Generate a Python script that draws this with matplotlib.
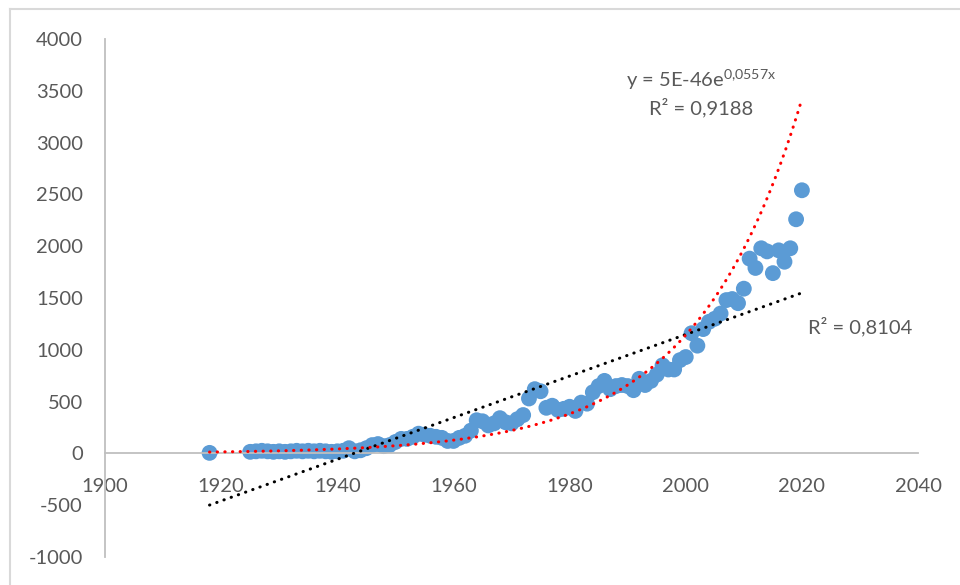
"""
Scatter of yearly values with linear and exponential trendlines (Excel-style look).
Writes out.png (960x585).
"""
from __future__ import annotations

import numpy as np
import matplotlib

matplotlib.use("Agg")
import matplotlib.pyplot as plt
from matplotlib.lines import Line2D

years = [1918] + list(range(1925, 2021))
values = [
    5,
    # 1925-1949
    15, 20, 25, 20, 15, 20, 15, 20, 25, 20,
    25, 20, 25, 20, 15, 20, 25, 50, 20, 30,
    50, 80, 90, 70, 80,
    # 1950-1974
    110, 140, 140, 160, 190, 180, 170, 160, 150, 120,
    120, 150, 170, 220, 320, 310, 270, 290, 340, 300,
    290, 330, 370, 530, 620,
    # 1975-1999
    600, 440, 460, 420, 430, 450, 410, 490, 480, 590,
    650, 700, 620, 650, 660, 650, 610, 720, 660, 700,
    760, 850, 810, 810, 900,
    # 2000-2020
    930, 1160, 1040, 1200, 1270, 1300, 1350, 1480, 1490, 1450,
    1590, 1880, 1790, 1980, 1950, 1740, 1960, 1850, 1980, 2260,
    2540,
]

x_ticks = [1900, 1920, 1940, 1960, 1980, 2000, 2020, 2040]
y_ticks = [-1000, -500, 0, 500, 1000, 1500, 2000, 2500, 3000, 3500, 4000]

exp_label = "y = 5E-46e$^{0{,}0557x}$"
exp_r2_label = "R² = 0,9188"
lin_r2_label = "R² = 0,8104"

BLUE = "#5B9BD5"
TEXT = "#595959"
AXIS = "#BFBFBF"


def main() -> None:
    plt.rcParams["font.family"] = ["Lato", "DejaVu Sans"]
    plt.rcParams["mathtext.fontset"] = "custom"
    plt.rcParams["mathtext.rm"] = "Lato"
    plt.rcParams["mathtext.it"] = "Lato"
    plt.rcParams["mathtext.default"] = "rm"
    plt.rcParams["axes.unicode_minus"] = False

    x = np.asarray(years, dtype=float)
    y = np.asarray(values, dtype=float)

    fig = plt.figure(figsize=(9.6, 5.85), dpi=100)
    ax = fig.add_axes([0.1094, 0.0479, 0.8469, 0.8854])

    ax.scatter(x, y, s=130, color=BLUE, edgecolors="none", zorder=2)

    # trendlines, fitted from the data (linear, and exponential on ln y)
    xs = np.linspace(x.min(), x.max(), 300)
    b_lin, a_lin = np.polyfit(x, y, 1)
    b_exp, a_exp = np.polyfit(x, np.log(y), 1)
    dots = dict(linewidth=2.2, dashes=(0.1, 2.4), dash_capstyle="round", zorder=3)
    ax.plot(xs, a_lin + b_lin * xs, color="black", **dots)
    ax.plot(xs, np.exp(a_exp + b_exp * xs), color="#FF0000", **dots)

    ax.set_xlim(1900, 2040)
    ax.set_ylim(-1000, 4000)
    ax.set_xticks(x_ticks)
    ax.set_yticks(y_ticks)

    ax.spines["top"].set_visible(False)
    ax.spines["right"].set_visible(False)
    ax.spines["left"].set_color(AXIS)
    ax.spines["left"].set_linewidth(1.3)
    ax.spines["bottom"].set_position(("data", 0))
    ax.spines["bottom"].set_color(AXIS)
    ax.spines["bottom"].set_linewidth(1.3)

    ax.tick_params(axis="x", length=0, pad=18, labelsize=14.5, labelcolor=TEXT)
    ax.tick_params(axis="y", length=0, pad=16, labelsize=14.5, labelcolor=TEXT)

    ax.text(2002.6, 3604, exp_label, ha="center", va="center", fontsize=14.5, color=TEXT)
    ax.text(2002.6, 3334, exp_r2_label, ha="center", va="center", fontsize=14.5, color=TEXT)
    ax.text(2021.1, 1220, lin_r2_label, ha="left", va="center", fontsize=14.5, color=TEXT)

    # chart-area border (only top and left edges are inside the screenshot)
    bx, by = 10 / 960, 1 - 9 / 585
    fig.add_artist(Line2D([bx, 1.0], [by, by], transform=fig.transFigure,
                          color="#D9D9D9", linewidth=1.5))
    fig.add_artist(Line2D([bx, bx], [0.0, by], transform=fig.transFigure,
                          color="#D9D9D9", linewidth=1.5))

    fig.savefig("out.png", dpi=100)
    plt.close(fig)


if __name__ == "__main__":
    main()
